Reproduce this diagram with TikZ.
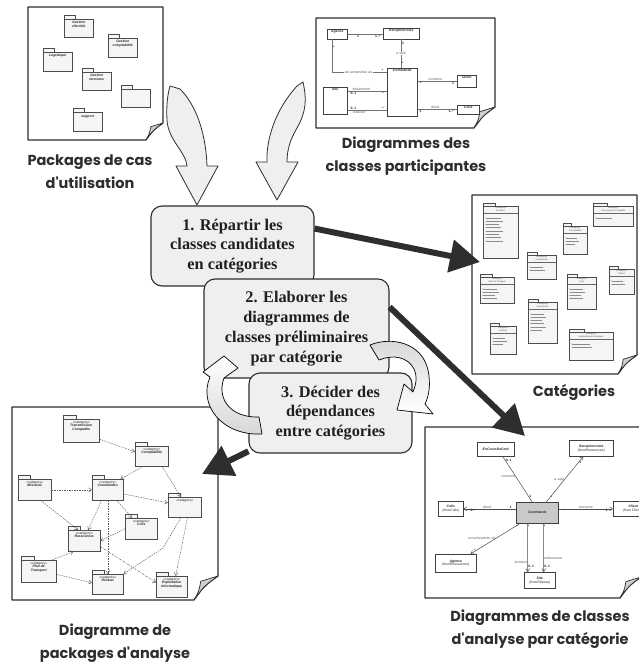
\documentclass[tikz,border=0pt]{standalone}
\usepackage{fontspec}
\setmainfont{Liberation Serif}
\setsansfont{Liberation Sans}
\newfontfamily\capfont{Poppins}
\usetikzlibrary{arrows.meta,calc}

\definecolor{ink}{HTML}{2E2E2E}
\definecolor{stepfill}{HTML}{EFEFEF}
\definecolor{curlfill}{HTML}{CFCFCF}
\definecolor{pkgfill}{HTML}{F5F5F5}
\definecolor{cmdfill}{HTML}{C9C9C9}

\newcommand\tinyfont{\sffamily\fontsize{3.4}{3.8}\selectfont}
\newcommand\microfont{\sffamily\fontsize{2.2}{2.5}\selectfont}
\newcommand\catg{{\mdseries\upshape «category»}}

\tikzset{
  docedge/.style={draw=ink, line width=1.2pt, fill=white, line join=round},
  curl/.style={draw=ink, line width=0.7pt, fill=curlfill, line join=round},
  caption/.style={font=\capfont\bfseries\fontsize{14.5}{23}\selectfont, text=ink, align=center},
  stepbox/.style={draw=ink, line width=1.1pt, fill=stepfill, rounded corners=11pt, align=center,
    inner sep=0pt, text=black!88, font=\bfseries\fontsize{16.3}{19.8}\selectfont},
  flowarrow/.style={draw=ink, line width=6pt, -{Triangle[length=30pt,width=32pt]}},
  hollow/.style={draw=ink, line width=0.8pt, fill=stepfill, line join=round},
  ring/.style={draw=black, line width=0.7pt, line join=round},
  pkgbody/.style={draw=black!70, line width=0.5pt, fill=pkgfill, inner sep=0pt},
  pkgname/.style={font=\tinyfont\bfseries\itshape, text=black!85, align=center, inner sep=0.5pt},
  clsbody/.style={draw=black!75, line width=0.5pt, fill=white, inner sep=0pt},
  clsname/.style={font=\tinyfont\bfseries, text=black!85, align=center, inner sep=0.5pt},
  clsitem/.style={font=\tinyfont\itshape, text=black!85, align=center, inner sep=0pt},
  assoc/.style={draw=black!55, line width=0.8pt},
  mult/.style={font=\tinyfont\bfseries, text=black!85, inner sep=0.4pt},
  role/.style={font=\tinyfont\itshape, text=black!65, inner sep=0.4pt},
  nav/.style={draw=black!70, line width=0.5pt, -{Straight Barb[length=3pt,width=4pt]}},
  dep/.style={draw=black!65, line width=0.45pt, dash pattern=on 1.5pt off 1pt,
    -{Straight Barb[length=3pt,width=4pt]}},
}

% sheet of paper with a curled lower-right corner
\newcommand\docframe[5]{%
  \draw[docedge] (#1,#2) -- (#3,#2) -- (#3,{#4-#5})
    .. controls ({#3-0.58*#5},{#4-0.58*#5}) .. ({#3-#5},#4) -- (#1,#4) -- cycle;
  \draw[curl] ({#3-#5},#4) .. controls ({#3-0.8*#5},{#4-0.35*#5}) .. ({#3-0.72*#5},{#4-0.78*#5})
    -- (#3,{#4-#5}) .. controls ({#3-0.58*#5},{#4-0.58*#5}) .. ({#3-#5},#4) -- cycle;
}
% UML package: name, x, y, width, height, text
\newcommand\pkgbox[6]{%
  \fill[black!20] ({#2+1.2},{#3+1.2}) rectangle ({#2+#4+1.2},{#3+#5+1.2});
  \node[pkgbody, anchor=north west, minimum width=#4pt, minimum height=#5pt] (#1) at (#2,#3) {};
  \draw[pkgbody] (#1.north west) rectangle ++({0.38*#4},-4);
  \node[pkgname, anchor=north] at ([yshift=-1.2pt]#1.north) {#6};
}
% package listing its classes: name, x, y, width, height, title, number of entries
\newcommand\catpkg[7]{%
  \fill[black!20] ({#2+1},{#3+1}) rectangle ({#2+#4+1},{#3+#5+1});
  \node[pkgbody, anchor=north west, minimum width=#4pt, minimum height=#5pt] (#1) at (#2,#3) {};
  \draw[pkgbody] (#1.north west) rectangle ++({0.35*#4},-3);
  \node[font=\microfont, text=black!70, align=center, inner sep=0, anchor=north]
    at ([yshift=-1pt]#1.north) {«category»\\#6};
  \draw[black!60, line width=0.3pt] ([xshift=1pt,yshift=-7pt]#1.north west) -- ([xshift=-1pt,yshift=-7pt]#1.north east);
  \foreach \k in {1,...,#7} {
    \fill[black!55] ($(#1.north west)+(2.2,{8.5+3.3*\k})$) circle (0.35);
    \draw[black!45, line width=0.5pt] ($(#1.north west)+(3.4,{8.5+3.3*\k})$) -- ++({0.35*#4+mod(\k,3)*2},0);
  }
}
% class with its name at the top: name, x, y, width, height, text
\newcommand\clsbox[6]{%
  \fill[black!22] ({#2+1},{#3+1}) rectangle ({#2+#4+1},{#3+#5+1});
  \node[clsbody, anchor=north west, minimum width=#4pt, minimum height=#5pt] (#1) at (#2,#3) {};
  \node[clsname, anchor=north] at ([yshift=-0.8pt]#1.north) {#6};
}
% class with centred text: name, x, y, width, height, fill, text
\newcommand\clsboxc[7]{%
  \fill[black!22] ({#2+1},{#3+1}) rectangle ({#2+#4+1},{#3+#5+1});
  \node[clsbody, fill=#6, anchor=north west, minimum width=#4pt, minimum height=#5pt] (#1) at (#2,#3) {};
  \node[clsitem] at (#1.center) {#7};
}

\begin{document}
\begin{tikzpicture}[x=1pt, y=-1pt]
\useasboundingbox (0,0) rectangle (639,669);
\fill[white] (0,0) rectangle (639,669);

% ---------- use case packages ----------
\docframe{28}{7}{163}{140}{17}
\pkgbox{gcli}{64}{19}{29}{18}{Gestion\\clientèle}
\pkgbox{gcpt}{108}{38}{29}{19}{Gestion\\comptabilité}
\pkgbox{logi}{43}{52}{29}{19}{Logistique}
\pkgbox{gmis}{82}{72}{29}{18}{Gestion\\missions}
\pkgbox{gvid}{121}{89}{29}{18}{}
\pkgbox{supp}{73}{112}{29}{19}{\\support}
\node[caption] (capUC) at (90,171.5) {Packages de cas\\d'utilisation};

% ---------- participating classes ----------
\docframe{316}{18}{495}{128}{21}
\clsbox{agence}{327}{29}{20}{10}{Agence}
\clsbox{recep}{383}{28}{36}{11}{Receptionniste}
\clsbox{cmdA}{387}{68}{30}{48}{Commande}
\clsbox{siteA}{323}{87}{24}{27}{Site}
\clsbox{clientA}{457}{75}{19}{12}{Client}
\clsbox{colisA}{457}{105}{22}{9}{Colis}
\draw[assoc] (agence.east) -- (agence.east -| recep.west)
  node[mult, below, pos=0.3] {1} node[mult, below, pos=0.85] {1..*};
\draw[assoc] (recep.south) -- (recep.south |- cmdA.north)
  node[mult, right, pos=0.15] {1} node[role, fill=white, pos=0.5] {a saisi}
  node[mult, right, pos=0.85] {*};
\draw[assoc] ([xshift=-5pt]agence.south) |- ([yshift=-4pt]cmdA.north west)
  node[mult, right, pos=0.12] {*} node[role, fill=white, pos=0.74] {est acheminée via}
  node[mult, above, pos=0.96] {*};
\draw[assoc] ([yshift=-4pt]siteA.north east) -- ([yshift=-4pt]siteA.north east -| cmdA.west)
  node[role, above, pos=0.35] {enlèvement} node[mult, below, pos=0.15] {0..1}
  node[mult, below, pos=0.9] {*};
\draw[assoc] ([yshift=4pt]siteA.south east) -- ([yshift=4pt]siteA.south east -| cmdA.west)
  node[mult, above, pos=0.15] {0..1} node[mult, above, pos=0.9] {*}
  node[role, below, pos=0.3] {livraison};
\draw[assoc] (clientA.west -| cmdA.east) -- (clientA.west)
  node[role, above, pos=0.45] {concerne} node[mult, below, pos=0.08] {*}
  node[mult, below, pos=0.9] {1};
\draw[assoc] (colisA.west -| cmdA.east) -- (colisA.west)
  node[role, above, pos=0.45] {décrit} node[mult, below, pos=0.08] {1}
  node[mult, below, pos=0.85] {1..*};
\node[caption] (capCP) at (406,156.5) {Diagrammes des\\classes participantes};

% ---------- categories ----------
\docframe{472}{195}{637}{374}{19}
\catpkg{cmis}{483}{206}{35}{52}{Missions}{8}
\catpkg{ctc}{593}{206}{40}{20}{Transmission Comptable}{1}
\catpkg{ccpt}{563}{226}{24}{28}{Comptabilité}{3}
\catpkg{ccmd}{527}{255}{29}{24}{Commandes}{2}
\catpkg{cpdt}{480}{277}{34}{26}{Plan de Transport}{4}
\catpkg{ccli}{609}{269}{25}{25}{Clients}{2}
\catpkg{ccol}{567}{277}{29}{32}{Colis}{4}
\catpkg{cres}{528}{302}{29}{41}{Ressources}{6}
\catpkg{crsx}{490}{326}{26}{28}{Réseau}{3}
\catpkg{cexp}{569}{332}{44}{28}{Exploitation Informatique}{2}
\node[caption] (capCat) at (574,392) {Catégories};

% ---------- analysis classes of one category ----------
\docframe{425}{427}{641}{598}{21}
\clsboxc{encours}{477}{442}{37}{14}{white}{\bfseries EnCoursDeCmd}
\clsboxc{recepB}{569}{440}{44}{16}{white}{\bfseries Receptionniste\\(fromRessources)}
\clsboxc{cmdB}{516}{502}{42}{21}{cmdfill}{\bfseries Commande}
\clsboxc{colisB}{438}{501}{25}{15}{white}{\bfseries Colis\\(fromColis)}
\clsboxc{clientB}{613}{501}{40}{15}{white}{\bfseries Client\\(from Clients)}
\clsboxc{agenceB}{435}{554}{41}{18}{white}{\bfseries Agence\\(fromRessources)}
\clsboxc{siteB}{524}{572}{31}{16}{white}{\bfseries Site\\(fromRéseau)}
\draw[black!70, line width=0.5pt] ($(encours.south)+(7,0)$) -- ($(cmdB.north)+(-5,0)$)
  node[mult, right, pos=0.08] {0..1} node[role, left, pos=0.45] {concerne}
  node[mult, right, pos=0.88] {1};
\draw[nav] ($(cmdB.north)+(9,0)$) -- ($(recepB.south)+(-8,0)$)
  node[mult, right, pos=0.1] {*} node[role, left, pos=0.5] {a saisi}
  node[mult, right, pos=0.88] {1};
\draw[nav] (cmdB.west |- colisB.east) -- (colisB.east)
  node[role, above, pos=0.55] {décrit} node[mult, above, pos=0.1] {1}
  node[mult, below, pos=0.82] {1..*};
\draw[nav] (cmdB.east |- clientB.west) -- (clientB.west)
  node[role, above, pos=0.5] {concerne} node[mult, below, pos=0.1] {*}
  node[mult, below, pos=0.88] {1};
\draw[nav] ($(cmdB.south west)+(4,0)$) -- ($(agenceB.north east)+(-6,0)$)
  node[mult, right, pos=0.08] {*} node[role, above left=-1pt, pos=0.5] {est acheminée via}
  node[mult, left, pos=0.88] {*};
\draw[nav] ($(cmdB.south)+(-10,0)$) -- ($(siteB.north)+(-12,0)$)
  node[mult, right, pos=0.06] {*} node[role, left, pos=0.8] {livraison}
  node[mult, right, pos=0.88] {0..1};
\draw[nav] ($(cmdB.south)+(6,0)$) -- ($(siteB.north)+(4,0)$)
  node[mult, right, pos=0.06] {*} node[role, right, pos=0.72] {enlèvement}
  node[mult, right, pos=0.88] {0..1};
\node[caption] (capCA) at (540,629.5) {Diagrammes de classes\\d'analyse par catégorie};

% ---------- analysis packages ----------
\docframe{12}{407}{218}{600}{24}
\pkgbox{ptc}{63}{419}{36}{23}{\catg\\Transmission\\Comptable}
\pkgbox{pcpt}{135}{446}{33}{20}{\catg\\Comptabilité}
\pkgbox{pmis}{18}{479}{33}{21}{\catg\\Missions}
\pkgbox{pcmd}{92}{479}{31}{21}{\catg\\Commandes}
\pkgbox{pcli}{168}{497}{33}{20}{\catg}
\pkgbox{pcol}{125}{518}{32}{21}{\catg\\Colis}
\pkgbox{pres}{68}{530}{32}{21}{\catg\\Ressources}
\pkgbox{ppdt}{21}{560}{35}{22}{\catg\\Plan de\\Transport}
\pkgbox{prsx}{92}{574}{31}{20}{\catg\\Réseau}
\pkgbox{pexp}{156}{576}{31}{21}{\catg\\Exploitation\\Informatique}
\coordinate (bendA) at (163,548);
\draw[dep] (ptc.-25) -- (pcpt.165);
\draw[dep] (pcpt.230) -- (pcmd.40);
\draw[dep] (pcpt.-45) -- (pcli.110);
\draw[dep] (pmis.east) -- (pcmd.west);
\draw[dep] (pmis.-60) -- (pres.120);
\draw[dep] (pcmd.-15) -- (pcli.165);
\draw[dep] (pcmd.-50) -- (pcol.130);
\draw[dep] (pcmd.-120) -- (pres.70);
\draw[dep] (pcmd.south) -- (prsx.north);
\draw[dep, dash pattern=on 2pt off 1pt on 0.5pt off 1pt] (pres.-20) -- (pexp.165);
\draw[dep] (pcol.west) -- (pres.east);
\draw[dep] (pcli.-110) -- (bendA) -- (prsx.north east);
\draw[dep] (pcli.-75) -- (pexp.70);
\draw[dep] (ppdt.-10) -- (prsx.175);
\draw[dep] (ppdt.40) -- (pres.-135);
\node[caption] (capPA) at (115,643.5) {Diagramme de\\packages d'analyse};

% ---------- inputs flowing into the first step ----------
\draw[hollow] (170,86) -- (180,89) .. controls (197,106) and (206,135) .. (207,166)
  -- (218,166) -- (197,205) -- (176,166) -- (187,166)
  .. controls (186,152) and (168,140) .. (167,120) .. controls (166,105) and (168,93) .. (170,86) -- cycle;
\draw[hollow] (297,86) -- (303,82) .. controls (307,100) and (306,112) .. (297,128)
  .. controls (290,140) and (287,150) .. (287,162) -- (298,162) -- (277,200) -- (256,162) -- (267,162)
  .. controls (266,140) and (275,110) .. (297,86) -- cycle;

% ---------- the three steps ----------
\node[stepbox, minimum width=163pt, minimum height=80pt] (s1) at (232.5,246)
  {1. Répartir les\\classes candidates\\en catégories};
\node[stepbox, minimum width=185pt, minimum height=99pt] (s2) at (296.5,328.5)
  {2. Elaborer les\\diagrammes de\\classes préliminaires\\par catégorie};
\node[stepbox, minimum width=163pt, minimum height=80pt] (s3) at (330.5,413)
  {3. Décider des\\dépendances\\entre catégories};

% ---------- outputs ----------
\coordinate (tipCat) at (480,262);
\coordinate (tipCls) at (525,436);
\coordinate (tipPkg) at (202,474);
\draw[flowarrow] (s1.12) -- (tipCat);
\draw[flowarrow] (s2.13) -- (tipCls);
\draw[flowarrow] (s3.205) -- (tipPkg);

% ---------- iteration between steps 2 and 3 ----------
\draw[ring, top color=black!16, bottom color=white]
  (370,345) .. controls (392,336) and (422,343) .. (428,370)
  .. controls (431,384) and (429,396) .. (425,404) -- (433,414) -- (397,410) -- (404,384) -- (413,392)
  .. controls (417,382) and (417,375) .. (414,369) .. controls (408,357) and (393,354) .. (379,360) -- cycle;
\draw[ring, top color=white, bottom color=black!16]
  (259,417) .. controls (232,418) and (216,400) .. (224,378) -- (238,368) -- (224,356) -- (203,372)
  -- (210,377) .. controls (198,405) and (222,436) .. (262,434) -- cycle;
\end{tikzpicture}
\end{document}
